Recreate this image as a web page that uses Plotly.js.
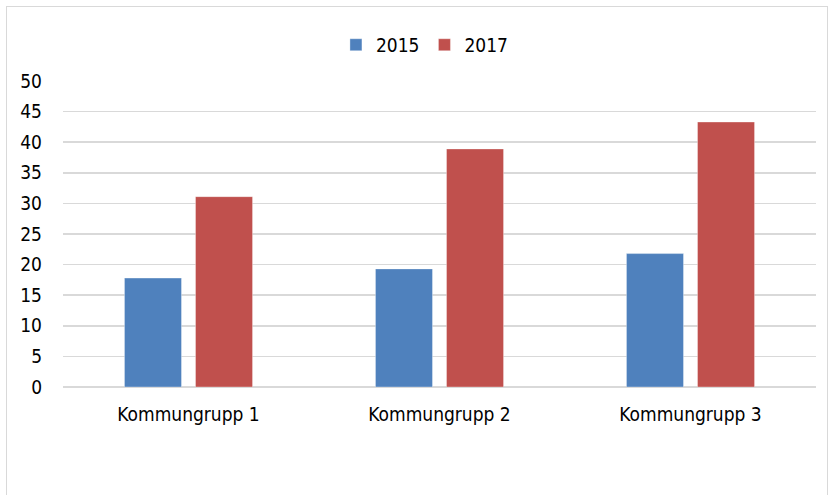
<!DOCTYPE html>
<html>
<head>
<meta charset="utf-8">
<script src="https://cdn.plot.ly/plotly-3.0.1.min.js"></script>
<style>
  html, body { margin: 0; padding: 0; background: #fff; }
  #wrap { position: relative; width: 834px; height: 495px; overflow: hidden; }
  #chart { width: 834px; height: 495px; }
  #frame { position: absolute; left: 6px; top: 6px; width: 822px; height: 520px;
           border: 1.5px solid #D9D9D9; pointer-events: none; box-sizing: border-box; }
</style>
</head>
<body>
<div id="wrap">
  <div id="chart"></div>
  <div id="frame"></div>
</div>
<script>
const categories = ["Kommungrupp 1", "Kommungrupp 2", "Kommungrupp 3"];
const seriesNames = ["2015", "2017"];
const values2015 = [17.8, 19.3, 21.8];
const values2017 = [31.1, 38.9, 43.3];
const yTicks = [0, 5, 10, 15, 20, 25, 30, 35, 40, 45, 50];

const FONT = '"Liberation Sans Narrow", "DejaVu Sans Condensed", "Arial Narrow", sans-serif';

const traces = [
  { type: 'bar', name: seriesNames[0], x: categories, y: values2015,
    marker: { color: '#4F81BD', line: { color: 'rgba(255,255,255,0.35)', width: 1 } } },
  { type: 'bar', name: seriesNames[1], x: categories, y: values2017,
    marker: { color: '#C0504D', line: { color: 'rgba(255,255,255,0.35)', width: 1 } } }
];

const layout = {
  width: 834, height: 495,
  margin: { l: 63, r: 18, t: 81, b: 108 },
  paper_bgcolor: '#fff', plot_bgcolor: '#fff',
  font: { family: FONT, size: 19, color: '#000' },
  barmode: 'group', bargap: 0.434, bargroupgap: 0.197,
  showlegend: true,
  legend: { orientation: 'h', x: 0.48, xanchor: 'center', y: 1.118, yanchor: 'middle',
            font: { family: FONT, size: 19, color: '#000' }, itemwidth: 30, traceorder: 'normal' },
  xaxis: { type: 'category', showgrid: false, zeroline: false, showline: false,
           ticks: '', ticklen: 0, ticklabelstandoff: 14,
           tickfont: { family: FONT, size: 19, color: '#000' } },
  yaxis: { range: [0, 50], tickvals: yTicks, ticktext: yTicks.map(String),
           showgrid: true, gridcolor: '#D9D9D9', gridwidth: 1.5,
           zeroline: true, zerolinecolor: '#D9D9D9', zerolinewidth: 1.5,
           showline: false, ticks: '', ticklabelstandoff: 20,
           tickfont: { family: FONT, size: 19, color: '#000' } }
};

Plotly.newPlot('chart', traces, layout, { displayModeBar: false, staticPlot: true });
</script>
</body>
</html>
